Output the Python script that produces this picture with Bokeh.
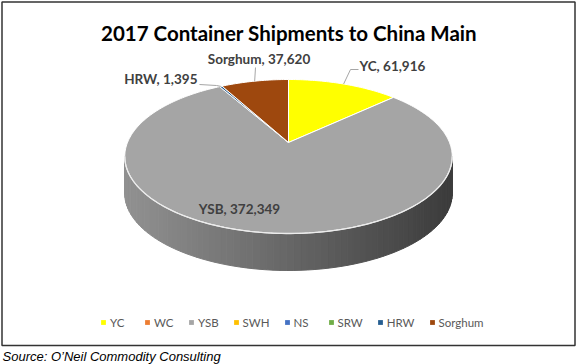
import numpy as np
from bokeh.plotting import figure
from bokeh.models import Range1d, Legend, LegendItem, Label
from bokeh.embed import file_html
from bokeh.resources import INLINE
from bokeh.core.properties import value

# ---------------- data ----------------
categories = ["YC", "WC", "YSB", "SWH", "NS", "SRW", "HRW", "Sorghum"]
shipments = [61916, 0, 372349, 0, 0, 0, 1395, 37620]
colors = ["#FFFF00", "#ED7D31", "#A5A5A5", "#FFC000", "#4472C4", "#70AD47", "#255E91", "#9E480E"]
title_text = "2017 Container Shipments to China Main"
source_text = "Source: O\u2019Neil Commodity Consulting"

# ---------------- layout (pixel coordinates) ----------------
W, H = 577, 364
CX, CY, R = 288.0, 142.0, 161.0      # pie apex & radius
PERSP, TILT, DEPTH = 0.1818, 48.64, 37.0
FONT = "Lato"
DY = -4.5   # text baseline correction

label_layout = {
    "YC": dict(x=359, y=70, align="left", leader=[(358, 69), (350, 69)]),
    "Sorghum": dict(x=258.5, y=63, align="center", leader=[(255, 67)]),
    "HRW": dict(x=197, y=83, align="right", leader=[(199, 84), (216, 85)]),
    "YSB": dict(x=239, y=213, align="center", leader=None),
}


def rim(theta_deg, drop=0.0):
    th = np.radians(theta_deg)
    t = np.cos(th)
    s = np.sin(th)
    d = 1 + PERSP * t
    return CX + R * s / d, (CY - TILT * t) / d + drop


def shade(hexc, f):
    h = hexc.lstrip("#")
    r, g, b = (int(h[i:i + 2], 16) for i in (0, 2, 4))
    return "#%02x%02x%02x" % tuple(int(max(0, min(255, round(c * f)))) for c in (r, g, b))


p = figure(width=W, height=H, x_range=Range1d(0, W), y_range=Range1d(H, 0),
           output_backend="svg", toolbar_location=None, min_border=0,
           x_axis_type=None, y_axis_type=None, outline_line_color=None,
           background_fill_color="white", border_fill_color="white")
p.grid.visible = False

# frame
p.quad(left=[1.5], right=[574.5], top=[1.5], bottom=[345], fill_alpha=0,
       line_color="#333333", line_width=1.5)

total = float(sum(shipments))
fracs = np.array(shipments, dtype=float) / total
ends = np.cumsum(fracs) * 360.0
starts = ends - fracs * 360.0

# side of the 3D pie (front half only)
th_l = np.degrees(np.arccos(-PERSP))
th_r = 360.0 - th_l
xl, _ = rim(360 - th_l)
xr, _ = rim(th_l)
sxs, sys_, scol = [], [], []
for i, v in enumerate(shipments):
    if v <= 0:
        continue
    lo, hi = max(starts[i], th_l), min(ends[i], th_r)
    if hi <= lo:
        continue
    edges = np.append(np.arange(lo, hi, 2.0), hi)
    for a0, a1 in zip(edges[:-1], edges[1:]):
        tx, ty = rim(np.array([a0, a1]))
        bx, by = rim(np.array([a1, a0]), DEPTH)
        sxs.append(list(tx) + list(bx))
        sys_.append(list(ty) + list(by))
        frac = (np.mean(tx) - xl) / (xr - xl)
        scol.append(shade(colors[i], 0.88 - 0.52 * frac))
p.patches(xs=sxs, ys=sys_, fill_color=scol, line_color=scol, line_width=1)

# top surface slices
txs, tys, tcol = [], [], []
for i, v in enumerate(shipments):
    if v <= 0:
        continue
    n = max(int(abs(ends[i] - starts[i])), 2) + 1
    th = np.linspace(starts[i], ends[i], n)
    rx, ry = rim(th)
    txs.append([CX] + list(rx))
    tys.append([CY] + list(ry))
    tcol.append(colors[i])
p.patches(xs=txs, ys=tys, fill_color=tcol, line_color="white", line_width=1)

# rim highlight
hx, hy = rim(np.linspace(th_l, th_r, 120))
p.line(hx, hy, line_color="#ececec", line_width=1.3)

# data labels and leader lines
for i, cat in enumerate(categories):
    if shipments[i] <= 0 or cat not in label_layout:
        continue
    lay = label_layout[cat]
    if lay["leader"]:
        mx, my = rim(0.5 * (starts[i] + ends[i]))
        pts = lay["leader"] + [(mx, my)]
        p.line([q[0] for q in pts], [q[1] for q in pts], line_color="#a6a6a6", line_width=1)
    p.text(x=[lay["x"]], y=[lay["y"] + DY], text=["%s, %s" % (cat, format(shipments[i], ","))],
           text_align=lay["align"], text_baseline="alphabetic",
           text_font=value(FONT), text_font_style="bold", text_font_size="13.5px",
           text_color="#404040")

# title
p.add_layout(Label(x=288.5, y=37 + DY, text=title_text, text_align="center", text_baseline="alphabetic",
                   text_font=FONT, text_font_style="bold", text_font_size="20.5px", text_color="#000000"))

# source
p.add_layout(Label(x=2, y=360 + DY, text=source_text, text_align="left", text_baseline="alphabetic",
                   text_font="Liberation Sans", text_font_style="italic", text_font_size="13px",
                   text_color="#000000"))

# legend
items = []
for cat, col in zip(categories, colors):
    r = p.quad(left=[np.nan], right=[np.nan], top=[np.nan], bottom=[np.nan],
               fill_color=col, line_alpha=0)
    items.append(LegendItem(label=cat, renderers=[r]))
legend = Legend(items=items, orientation="horizontal", location=(100, 35),
                glyph_width=6, glyph_height=6, label_standoff=4, spacing=14,
                padding=0, margin=0, border_line_alpha=0, background_fill_alpha=0,
                label_text_font=FONT, label_text_font_size="11.5px", label_text_color="#595959",
                label_height=14)
p.add_layout(legend)

open("out.html", "w").write(file_html(p, INLINE))
